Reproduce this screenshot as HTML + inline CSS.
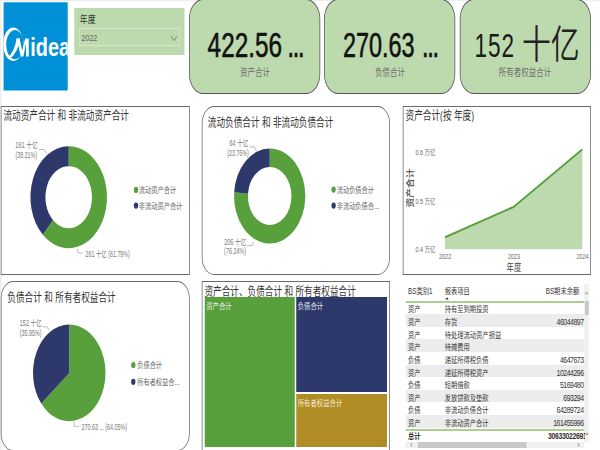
<!DOCTYPE html>
<html><head><meta charset="utf-8">
<style>
*{margin:0;padding:0;box-sizing:border-box;}
html,body{width:600px;height:450px;overflow:hidden;background:#fff;}
body{font-family:"Liberation Sans","Noto Sans CJK SC",sans-serif;}
#stage{position:absolute;left:0;top:0;width:800px;height:450px;transform:scaleX(0.75);transform-origin:0 0;background:#fff;overflow:hidden;}
.abs{position:absolute;}
.bandT{left:0;top:0;width:800px;height:1px;background:#eeeeee;}
.bandL{left:0;top:0;width:2.4px;height:450px;background:#eeeeee;}
#logo{left:4.7px;top:2.3px;width:85.6px;height:87.7px;background:#0090d7;overflow:hidden;}
#slicer{left:98.7px;top:8.2px;width:147.2px;height:47.1px;background:#bddaae;}
#slicer .t{position:absolute;left:7.8px;top:5px;font-size:10.5px;line-height:12px;color:#333;white-space:nowrap;}
#slicer .dd{position:absolute;left:6.6px;top:20.3px;width:134.7px;height:17.3px;border:1px solid #d3e6ca;}
#slicer .dd span{position:absolute;left:2.5px;top:3.6px;font-size:9.4px;line-height:10px;color:#666;}
.card{top:-0.6px;height:94.7px;width:174px;background:#bddaae;border:1px solid #555;border-width:1px 1.33px;border-radius:19px/20px;}
.panel{border:1px solid #6a6a6a;border-width:1px 1.33px;background:#fff;}
.ptitle{position:absolute;left:2.5px;top:0.5px;font-size:11.5px;line-height:16px;color:#333;white-space:nowrap;transform:scaleY(1.05);transform-origin:0 0;}
.tbl{font-size:8.4px;color:#333;white-space:nowrap;}
.tr{position:absolute;left:541px;width:238.3px;height:12.625px;}
.tr span{position:absolute;top:2.1px;line-height:12.625px;}
.c1{left:3px;} .c2{left:51.9px;} .c3{right:1.2px;letter-spacing:-0.6px;font-size:9.2px;}
svg text{font-family:"Liberation Sans","Noto Sans CJK SC",sans-serif;}
</style></head><body>
<div id="stage">
  <div class="abs bandT"></div>
  <div class="abs bandL"></div>
  <div id="slicer" class="abs"><div class="t">年度</div><div class="dd"><span>2022</span>
    <svg style="position:absolute;right:2.2px;top:4.6px;" width="10" height="8" viewBox="0 0 10 8"><polyline points="1,2.2 5,6.6 9,2.2" fill="none" stroke="#7a7a7a" stroke-width="1"/></svg></div></div>
  <div class="abs card" style="left:251.73px;width:175.2px;"></div>
  <div class="abs card" style="left:431.87px;width:175.33px;"></div>
  <div class="abs card" style="left:612.67px;width:175.07px;"></div>

  <div class="abs panel" style="left:1.07px;top:105.9px;width:252px;height:168.8px;"><div class="ptitle">流动资产合计 和 非流动资产合计</div></div>
  <div class="abs panel" style="left:269.07px;top:105.9px;width:251.2px;height:168.8px;border-radius:16.5px/17.5px;"><div class="ptitle" style="left:7px;top:7px;">流动负债合计 和 非流动负债合计</div></div>
  <div class="abs panel" style="left:537.2px;top:105.9px;width:250.8px;height:168.8px;"><div class="ptitle">资产合计(按 年度)</div></div>
  <div class="abs panel" style="left:1.33px;top:280.6px;width:251.73px;height:170.6px;border-radius:16.5px/17.5px;"><div class="ptitle" style="left:7.5px;top:7.3px;">负债合计 和 所有者权益合计</div></div>
  <div class="abs panel" style="left:268.93px;top:280.6px;width:251.2px;height:175px;"><div class="ptitle" style="left:2.6px;top:1px;">资产合计、负债合计 和 所有者权益合计</div>
    <div class="abs" style="left:3px;top:15.3px;width:120.5px;height:150.6px;background:#58a03c;"></div>
    <div class="abs" style="left:125.4px;top:15.3px;width:120.3px;height:95.2px;background:#2d396b;"></div>
    <div class="abs" style="left:125.4px;top:112.5px;width:120.5px;height:53.4px;background:#b08d24;"></div>
    <div class="abs" style="left:5px;top:19px;font-size:8.5px;line-height:10px;color:#e8f0e0;">资产合计</div>
    <div class="abs" style="left:127px;top:19px;font-size:8.5px;line-height:10px;color:#e8e8f0;">负债合计</div>
    <div class="abs" style="left:127px;top:116px;font-size:8.5px;line-height:10px;color:#f4ecd8;">所有者权益合计</div>
  </div>

  <!-- table -->
  <div class="tbl">
    <div class="abs" style="left:779.4px;top:284.4px;width:5.8px;height:158px;background:#f0f0f0;"></div>
    <div class="abs" style="left:779.8px;top:301.3px;width:5.2px;height:14.2px;background:#c8c8c8;"></div>
    <div class="abs" style="left:544px;top:285px;line-height:12px;">BS类别1</div>
    <div class="abs" style="left:592.9px;top:285px;line-height:12px;">报表项目</div>
    <div class="abs" style="left:700px;width:72.3px;text-align:right;top:285px;line-height:12px;">BS期末余额</div>
    <div class="abs" style="left:541px;top:301.2px;width:238.3px;height:1.7px;background:#a9d08e;"></div>
<div class="tr" style="top:301.400px;"><span class="c1">资产</span><span class="c2">持有至到期投资</span><span class="c3"></span></div>
<div class="tr" style="top:314.025px;background:#ececec;"><span class="c1">资产</span><span class="c2">存货</span><span class="c3">46044897</span></div>
<div class="tr" style="top:326.650px;"><span class="c1">资产</span><span class="c2">待处理流动资产损益</span><span class="c3"></span></div>
<div class="tr" style="top:339.275px;background:#ececec;"><span class="c1">资产</span><span class="c2">待摊费用</span><span class="c3"></span></div>
<div class="tr" style="top:351.900px;"><span class="c1">负债</span><span class="c2">递延所得税负债</span><span class="c3">4647673</span></div>
<div class="tr" style="top:364.525px;background:#ececec;"><span class="c1">资产</span><span class="c2">递延所得税资产</span><span class="c3">10244296</span></div>
<div class="tr" style="top:377.150px;"><span class="c1">负债</span><span class="c2">短期借款</span><span class="c3">5169480</span></div>
<div class="tr" style="top:389.775px;background:#ececec;"><span class="c1">资产</span><span class="c2">发放贷款及垫款</span><span class="c3">693294</span></div>
<div class="tr" style="top:402.400px;"><span class="c1">负债</span><span class="c2">非流动负债合计</span><span class="c3">64289724</span></div>
<div class="tr" style="top:415.025px;background:#ececec;"><span class="c1">资产</span><span class="c2">非流动资产合计</span><span class="c3">161455996</span></div>
    <div class="abs" style="left:541px;top:429px;width:238.3px;height:1.7px;background:#a9d08e;"></div>
    <div class="abs" style="left:544px;top:430.3px;line-height:12px;font-weight:bold;">总计</div>
    <div class="abs" style="left:690px;width:89.6px;height:12px;top:430.3px;line-height:12px;font-weight:bold;overflow:hidden;"><span style="position:absolute;left:40.6px;letter-spacing:-0.45px;font-size:9.2px;">30633022691</span></div>
    <div class="abs" style="left:540.5px;top:441.7px;width:238.8px;height:6.4px;background:#f0f0f0;"></div>
    <div class="abs" style="left:557px;top:441.7px;width:145.3px;height:6.4px;background:#c8c8c8;"></div>
  </div>

  <svg class="abs" style="left:0;top:0;" width="800" height="450" viewBox="0 0 800 450">
<path d="M91.60,146.20A51,51 0 1 1 57.18,234.83L70.68,220.08A31,31 0 1 0 91.60,166.20Z" fill="#58a03c"/><path d="M57.18,234.83A51,51 0 0 1 91.60,146.20L91.60,166.20A31,31 0 0 0 70.68,220.08Z" fill="#2d396b"/>
<polyline points="52.00,149.50 58.67,149.50 62.00,153.50" fill="none" stroke="#aaa" stroke-width="0.9"/>
<text transform="translate(50.13,148.20) scale(0.9,1)" font-size="8.4" fill="#777" text-anchor="end" font-weight="normal" >161 十亿</text>
<text transform="translate(49.33,158.40) scale(0.84,1)" font-size="8.4" fill="#777" text-anchor="end" font-weight="normal" >(38.21%)</text>
<polyline points="103.47,249.00 104.00,253.00 110.40,253.00" fill="none" stroke="#aaa" stroke-width="0.9"/>
<text transform="translate(114.13,257.20) scale(0.85,1)" font-size="8.4" fill="#777" text-anchor="start" font-weight="normal" >261 十亿 (61.79%)</text>
<ellipse cx="181.33333333333334" cy="189.9" rx="2.9" ry="3.1" fill="#58a03c"/>
<ellipse cx="181.33333333333334" cy="205.6" rx="2.9" ry="3.1" fill="#2d396b"/>
<text x="185.07" y="193.20" font-size="8.3" fill="#666" text-anchor="start" font-weight="normal" >流动资产合计</text>
<text x="185.07" y="208.90" font-size="8.3" fill="#666" text-anchor="start" font-weight="normal" >非流动资产合计</text>
<path d="M359.60,148.50A47.5,47.5 0 1 1 312.24,192.30L330.69,193.74A29,29 0 1 0 359.60,167.00Z" fill="#58a03c"/><path d="M312.24,192.30A47.5,47.5 0 0 1 359.60,148.50L359.60,167.00A29,29 0 0 0 330.69,193.74Z" fill="#2d396b"/>
<polyline points="332.67,146.80 338.67,146.80 342.00,151.00" fill="none" stroke="#aaa" stroke-width="0.9"/>
<text transform="translate(331.07,145.60) scale(0.88,1)" font-size="8.4" fill="#777" text-anchor="end" font-weight="normal" >64 十亿</text>
<text transform="translate(331.60,155.90) scale(0.84,1)" font-size="8.4" fill="#777" text-anchor="end" font-weight="normal" >(23.76%)</text>
<polyline points="329.33,245.50 336.00,245.50 338.00,242.00" fill="none" stroke="#aaa" stroke-width="0.9"/>
<text transform="translate(328.00,244.50) scale(0.88,1)" font-size="8.4" fill="#777" text-anchor="end" font-weight="normal" >206 十亿</text>
<text transform="translate(328.00,254.40) scale(0.86,1)" font-size="8.4" fill="#777" text-anchor="end" font-weight="normal" >(76.24%)</text>
<ellipse cx="444.8" cy="189.6" rx="2.9" ry="3.1" fill="#58a03c"/>
<ellipse cx="444.8" cy="205.6" rx="2.9" ry="3.1" fill="#2d396b"/>
<text x="448.93" y="192.90" font-size="8.3" fill="#666" text-anchor="start" font-weight="normal" >流动负债合计</text>
<text x="448.93" y="208.90" font-size="8.3" fill="#666" text-anchor="start" font-weight="normal" >非流动负债合...</text>
<path d="M92.33,372.90L92.33,324.60A48.3,48.3 0 1 1 55.02,403.57Z" fill="#58a03c"/><path d="M92.33,372.90L55.02,403.57A48.3,48.3 0 0 1 92.33,324.60Z" fill="#2d396b"/>
<polyline points="56.00,326.80 62.67,326.80 66.00,330.50" fill="none" stroke="#aaa" stroke-width="0.9"/>
<text transform="translate(55.47,326.00) scale(0.88,1)" font-size="8.4" fill="#777" text-anchor="end" font-weight="normal" >152 十亿</text>
<text transform="translate(55.47,336.00) scale(0.86,1)" font-size="8.4" fill="#777" text-anchor="end" font-weight="normal" >(35.95%)</text>
<polyline points="98.80,421.70 98.80,426.30 105.73,426.30" fill="none" stroke="#aaa" stroke-width="0.9"/>
<text transform="translate(108.67,430.40) scale(0.85,1)" font-size="8.4" fill="#777" text-anchor="start" font-weight="normal" >270.63 ... (64.05%)</text>
<ellipse cx="177.73333333333335" cy="365.1" rx="2.9" ry="3.1" fill="#58a03c"/>
<ellipse cx="177.73333333333335" cy="381.8" rx="2.9" ry="3.1" fill="#2d396b"/>
<text x="182.93" y="368.40" font-size="8.3" fill="#666" text-anchor="start" font-weight="normal" >负债合计</text>
<text x="182.93" y="385.10" font-size="8.3" fill="#666" text-anchor="start" font-weight="normal" >所有者权益合...</text>
<polygon points="593.33,249.2 593.33,237.30 685.33,206.70 776.40,149.30 776.40,249.2" fill="#bddaae"/>
<line x1="582.6666666666666" y1="201" x2="777.3333333333334" y2="201" stroke="#eeeeee" stroke-width="0.8" stroke-dasharray="1,4"/>
<polyline points="593.33,237.30 685.33,206.70 776.40,149.30" fill="none" stroke="#58a03c" stroke-width="2" stroke-linejoin="round"/>
<text x="580.67" y="154.90" font-size="7.3" fill="#666" text-anchor="end" font-weight="normal" >0.6 万亿</text>
<text x="580.67" y="203.60" font-size="7.3" fill="#666" text-anchor="end" font-weight="normal" >0.5 万亿</text>
<text x="580.67" y="251.60" font-size="7.3" fill="#666" text-anchor="end" font-weight="normal" >0.4 万亿</text>
<text x="593.47" y="259.00" font-size="7.3" fill="#666" text-anchor="middle" font-weight="normal" >2022</text>
<text x="685.33" y="259.00" font-size="7.3" fill="#666" text-anchor="middle" font-weight="normal" >2023</text>
<text x="776.80" y="259.00" font-size="7.3" fill="#666" text-anchor="middle" font-weight="normal" >2024</text>
<text x="685.20" y="271.30" font-size="9.8" fill="#444" text-anchor="middle" font-weight="normal" >年度</text>
<text transform="translate(550.13,188) rotate(-90) scale(1,1.08)" font-size="9.8" font-weight="500" fill="#444" text-anchor="middle">资产合计</text>
<text transform="translate(276.80,56.8) scale(0.915,1)" font-size="35.5" fill="#111" stroke="#111" stroke-width="0.6">422.56</text>
<text transform="translate(383.47,56.8) scale(0.88,1)" font-size="35.5" fill="#111" stroke="#111" stroke-width="0.7" letter-spacing="-2.0">...</text>
<text transform="translate(457.33,56.8) scale(0.88,1)" font-size="35.5" fill="#111" stroke="#111" stroke-width="0.6">270.63</text>
<text transform="translate(562.67,56.8) scale(0.88,1)" font-size="35.5" fill="#111" stroke="#111" stroke-width="0.7" letter-spacing="-2.0">...</text>
<text transform="translate(632.80,56.8) scale(0.9,1)" font-size="33.5" fill="#1a1a1a" letter-spacing="1.3">152</text>
<text x="696.00" y="58" font-size="38.5" font-weight="350" fill="#222" style="font-family:'Noto Sans CJK SC',sans-serif">十亿</text>
<text x="340.00" y="75.80" font-size="10" fill="#6e6e6e" text-anchor="middle" font-weight="normal" >资产合计</text>
<text x="520.00" y="75.80" font-size="10" fill="#6e6e6e" text-anchor="middle" font-weight="normal" >负债合计</text>
<text x="700.00" y="75.80" font-size="10" fill="#6e6e6e" text-anchor="middle" font-weight="normal" >所有者权益合计</text>
<polygon points="593.60,299.4 598.40,299.4 596.00,297.2" fill="#333"/>
<polyline points="780.13,294.30 782.00,292.20 783.87,294.30" fill="none" stroke="#777" stroke-width="0.9"/>
<polyline points="780.40,432.90 782.27,435.00 784.13,432.90" fill="none" stroke="#777" stroke-width="0.9"/>
<polyline points="549.47,443.00 547.73,444.80 549.47,446.60" fill="none" stroke="#777" stroke-width="0.9"/>
<polyline points="770.40,443.00 772.13,444.80 770.40,446.60" fill="none" stroke="#777" stroke-width="0.9"/>
  </svg>
</div>
<svg style="position:absolute;left:0;top:0;" width="600" height="100" viewBox="0 0 600 100">
  <defs><clipPath id="lc"><rect x="3.6" y="2.3" width="64.1" height="88.2"/></clipPath></defs>
  <rect x="3.6" y="2.3" width="64.1" height="88.2" fill="#0090d7"/>
  <g clip-path="url(#lc)" fill="#fff">
    <path fill-rule="evenodd" d="M13.3,27.5 a10.2,16.7 0 1 0 0.01,0 Z M15,30 a8.8,14.6 0 1 0 0.01,0 Z"/>
    <path d="M7.4,57.8 Q14.5,52 16.6,38.4 L19.8,38.4 Q17.5,54.5 9.8,58 Z"/>
    <path d="M16.6,38.4 L19.6,38.4 L22.2,50.5 L25.2,38.4 L28.8,38.4 L28.8,56.4 L26,56.4 L26,43.6 L23.4,56.4 L20.8,56.4 Z"/>
    <text transform="translate(30.3,56.4) scale(0.75,1)" font-family="Liberation Sans" font-weight="bold" font-size="26.5">idea</text>
  </g>
</svg>
</body></html>
